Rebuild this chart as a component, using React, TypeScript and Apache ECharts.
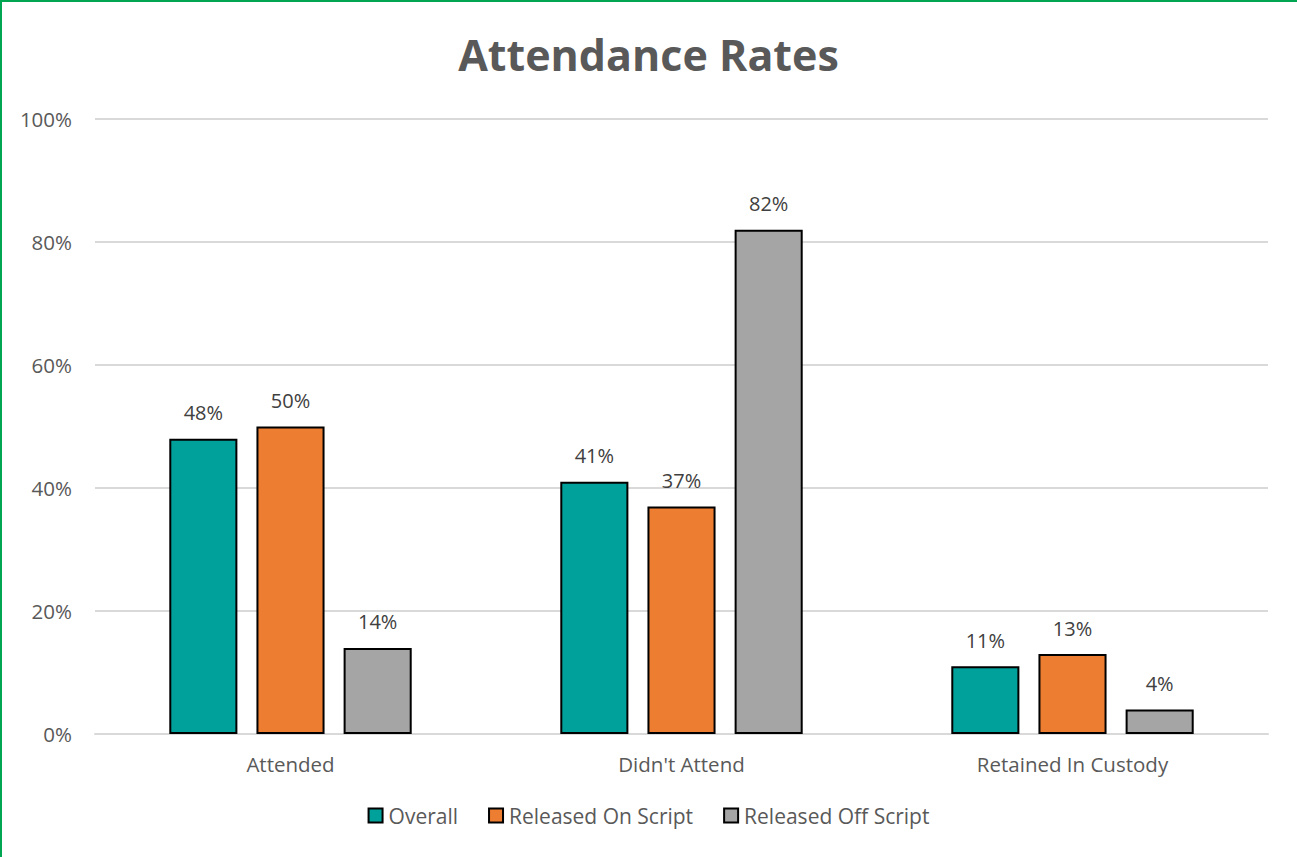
import React, { useEffect, useRef } from "react";
import * as echarts from "echarts";

const categories = ["Attended", "Didn't Attend", "Retained In Custody"];
const seriesNames = ["Overall", "Released On Script", "Released Off Script"];
const overall = [48, 41, 11];
const onScript = [50, 37, 13];
const offScript = [14, 82, 4];
const colors = ["#00A19A", "#ED7D31", "#A5A5A5"];

const FONT = "'Open Sans', 'Noto Sans', sans-serif";

export default function App() {
  const ref = useRef<HTMLDivElement>(null);
  useEffect(() => {
    document.body.style.margin = "0";
    const chart = echarts.init(ref.current!, null, { renderer: "svg" });
    const data = [overall, onScript, offScript];
    chart.setOption({
      animation: false,
      backgroundColor: "#ffffff",
      textStyle: { fontFamily: FONT },
      title: {
        text: "Attendance Rates",
        left: "center",
        top: 28,
        textStyle: { fontFamily: FONT, fontSize: 43, fontWeight: "bold", color: "#595959" },
      },
      graphic: [
        { type: "line", shape: { x1: 1, y1: 0, x2: 1, y2: 857 }, style: { stroke: "#00A651", lineWidth: 2 } },
        { type: "line", shape: { x1: 0, y1: 1, x2: 1297, y2: 1 }, style: { stroke: "#00A651", lineWidth: 2 } },
      ],
      legend: {
        bottom: 26,
        left: "center",
        itemWidth: 14,
        itemHeight: 14,
        itemGap: 30,
        icon: "rect",
        textStyle: { fontFamily: FONT, fontSize: 21, color: "#595959", padding: [0, 0, 0, 1] },
        data: seriesNames,
      },
      grid: { left: 95, right: 29, top: 119, bottom: 123, containLabel: false },
      xAxis: {
        type: "category",
        data: categories,
        axisLine: { show: true, lineStyle: { color: "#D9D9D9", width: 2 } },
        axisTick: { show: false },
        axisLabel: { fontFamily: FONT, fontSize: 20.5, color: "#595959", margin: 19 },
      },
      yAxis: {
        type: "value",
        min: 0,
        max: 100,
        interval: 20,
        axisLine: { show: false },
        axisTick: { show: false },
        splitLine: { lineStyle: { color: "#D9D9D9", width: 2 } },
        axisLabel: { fontFamily: FONT, fontSize: 20.5, color: "#595959", margin: 23, formatter: "{value}%" },
      },
      series: seriesNames.map((name, i) => ({
        name,
        type: "bar",
        data: data[i],
        barCategoryGap: "38%",
        barGap: "28%",
        itemStyle: { color: colors[i], borderColor: "#000000", borderWidth: 2 },
        label: {
          show: true,
          position: "top",
          distance: 16,
          formatter: "{c}%",
          fontFamily: FONT,
          fontSize: 20,
          color: "#404040",
        },
      })),
    });
    return () => chart.dispose();
  }, []);
  return <div ref={ref} style={{ width: 1297, height: 857 }} />;
}
